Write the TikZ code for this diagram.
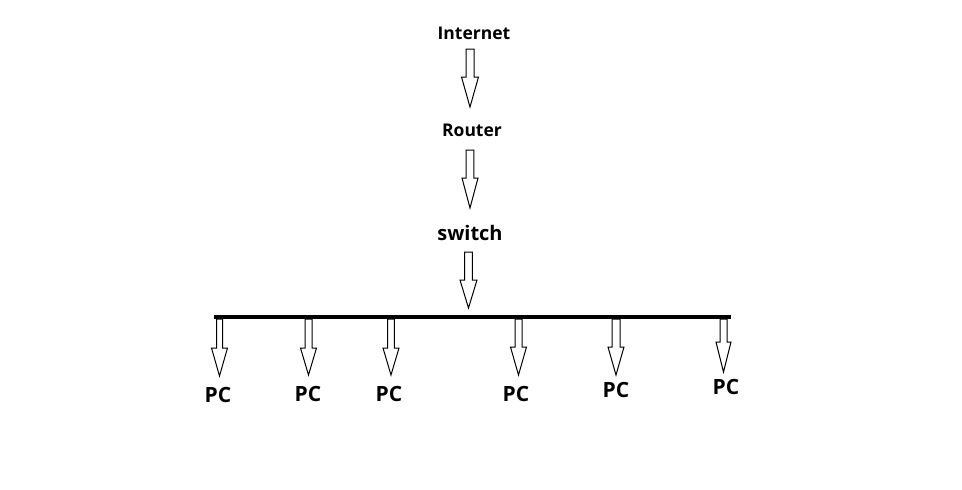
\documentclass[tikz,border=0pt]{standalone}
\usepackage{fontspec}
\setmainfont{Open Sans}
\tikzset{
  lbl/.style={font=\bfseries\fontsize{17.5}{20}\selectfont, inner sep=0pt, text=black},
  swlbl/.style={font=\bfseries\fontsize{20}{22}\selectfont, inner sep=0pt, text=black},
  pclbl/.style={font=\bfseries\fontsize{21}{23}\selectfont, inner sep=0pt, text=black},
  arrowline/.style={draw=black, line width=1pt, fill=white, line join=miter},
  bus/.style={draw=black, line width=4.5pt}
}
% #1 centre x, #2 top y, #3 y where head starts, #4 tip y, #5 half shaft, #6 half head
\newcommand{\blockarr}[6]{%
  \draw[arrowline] ({#1-#5},#2) -- ({#1+#5},#2) -- ({#1+#5},#3) -- ({#1+#6},#3)
    -- (#1,#4) -- ({#1-#6},#3) -- ({#1-#5},#3) -- cycle;}
\begin{document}
\begin{tikzpicture}[x=1pt,y=-1pt]
\useasboundingbox[fill=white] (0,0) rectangle (962,490);
\node[lbl] (internet) at (474,33) {Internet};
\node[lbl] (router) at (472,130) {Router};
\node[swlbl] (switch) at (470,233) {switch};

\blockarr{470}{49}{77}{107}{4}{8.5}
\blockarr{470}{150}{178}{208}{3.8}{8}
\blockarr{468.5}{252}{280}{308}{3.8}{8.5}

\coordinate (busL) at (214,317);
\coordinate (busR) at (731,317);

\blockarr{219.5}{319}{348}{376}{3}{8}
\blockarr{308.5}{319}{348}{375}{3.5}{8}
\blockarr{391}{319}{348}{375}{3.3}{8}
\blockarr{518.5}{319}{347}{375}{3.5}{8}
\blockarr{616}{319}{347}{375}{4}{8}
\blockarr{723.5}{319}{342}{372}{3.5}{7.5}

\draw[bus] (busL) -- (busR);

\node[pclbl] (pc1) at (218,395) {PC};
\node[pclbl] (pc2) at (308,394) {PC};
\node[pclbl] (pc3) at (389,394) {PC};
\node[pclbl] (pc4) at (516,394) {PC};
\node[pclbl] (pc5) at (616,390) {PC};
\node[pclbl] (pc6) at (726,387) {PC};
\end{tikzpicture}
\end{document}
